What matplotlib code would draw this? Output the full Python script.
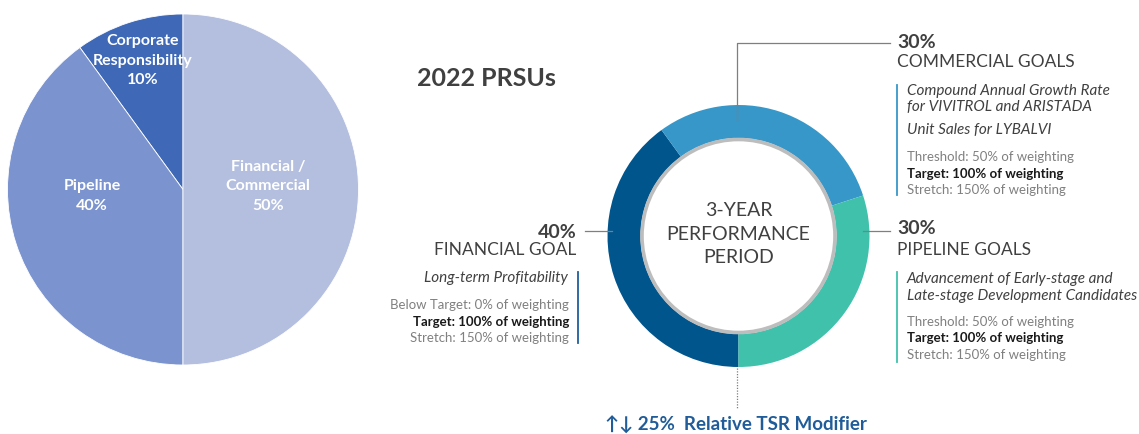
import matplotlib
matplotlib.use("Agg")
import matplotlib.pyplot as plt
from matplotlib.patches import Circle

plt.rcParams['font.family'] = ['Lato', 'DejaVu Sans']

# ---- data ----
pie_labels = ["Corporate\nResponsibility\n10%", "Pipeline\n40%", "Financial /\nCommercial\n50%"]
pie_values = [10, 40, 50]
pie_colors = ["#3F69B7", "#7B93CF", "#B4BFE0"]

donut_names = ["FINANCIAL GOAL", "COMMERCIAL GOALS", "PIPELINE GOALS"]
donut_values = [40, 30, 30]
donut_colors = ["#00558C", "#3797C9", "#40C1AC"]

title = "2022 PRSUs"
center_text = "3-YEAR\nPERFORMANCE\nPERIOD"

commercial_metrics = ["Compound Annual Growth Rate", "for VIVITROL and ARISTADA", "Unit Sales for LYBALVI"]
commercial_levels = ["Threshold: 50% of weighting", "Target: 100% of weighting", "Stretch: 150% of weighting"]
pipeline_metrics = ["Advancement of Early-stage and", "Late-stage Development Candidates"]
pipeline_levels = ["Threshold: 50% of weighting", "Target: 100% of weighting", "Stretch: 150% of weighting"]
financial_metrics = ["Long-term Profitability"]
financial_levels = ["Below Target: 0% of weighting", "Target: 100% of weighting", "Stretch: 150% of weighting"]
modifier_text = "\u2191\u2193 25%  Relative TSR Modifier"

W, H = 1139, 434
fig = plt.figure(figsize=(W / 100, H / 100), dpi=100)
ax = fig.add_axes([0, 0, 1, 1])

def Y(y):
    return H - y

# ---- left pie ----
wedges, texts = ax.pie(pie_values, colors=pie_colors, startangle=90, counterclock=True,
                       center=(183, Y(189.5)), radius=175.5,
                       wedgeprops=dict(edgecolor="white", linewidth=0.6))
label_pos = [(143, 61), (92, 196), (268, 186)]
for lab, (x, y) in zip(pie_labels, label_pos):
    ax.text(x, Y(y), lab, ha="center", va="center", color="white", fontsize=11.5,
            fontweight="bold", linespacing=1.5)

# ---- donut ----
cx, cy = 738.5, 236
ax.pie(donut_values, colors=donut_colors, startangle=270, counterclock=False,
       center=(cx, Y(cy)), radius=131, wedgeprops=dict(width=33, linewidth=0))
ax.add_patch(Circle((cx, Y(cy)), 96.5, facecolor="white", edgecolor="#BDBDBD", linewidth=2.6, zorder=3))
ax.text(cx, Y(cy - 2), center_text, ha="center", va="center", color="#404040", fontsize=14,
        fontweight="normal", linespacing=1.45, zorder=4)

# ---- title ----
ax.text(417, Y(79), title, ha="left", va="center", color="#404040", fontsize=18, fontweight="bold")

grey = "#7F7F7F"
# leader lines
ax.plot([737, 737, 890], [Y(120), Y(43), Y(43)], color=grey, lw=0.9, zorder=5)
ax.plot([585, 612], [Y(231), Y(231)], color=grey, lw=0.9, zorder=5)
ax.plot([863, 890], [Y(231), Y(231)], color=grey, lw=0.9, zorder=5)
ax.plot([737, 737], [Y(368), Y(408)], color=grey, lw=0.9, ls=(0, (1, 1.2)), zorder=5)

dark = "#404040"
lvl_col = "#808080"
NAME_FS = 12.5
MET_FS = 11
LVL_FS = 9.5

def block(x, pct, pct_y, name, name_y, metrics, metric_ys, levels, level_ys, line_x, line_y0, line_y1, line_col):
    ax.text(x, Y(pct_y), pct, ha="left", va="center", color=dark, fontsize=14, fontweight="bold")
    ax.text(x, Y(name_y), name, ha="left", va="center", color=dark, fontsize=NAME_FS)
    ax.plot([line_x, line_x], [Y(line_y0), Y(line_y1)], color=line_col, lw=1.3)
    tx = x + 10
    for m, my in zip(metrics, metric_ys):
        ax.text(tx, Y(my), m, ha="left", va="center", color=dark, fontsize=MET_FS, style="italic")
    for i, (l, ly) in enumerate(zip(levels, level_ys)):
        if i == 1:
            ax.text(tx, Y(ly), l, ha="left", va="center", color="#1A1A1A", fontsize=LVL_FS, fontweight="bold")
        else:
            ax.text(tx, Y(ly), l, ha="left", va="center", color=lvl_col, fontsize=LVL_FS)

block(897, "30%", 42, donut_names[1], 62, commercial_metrics, [91, 107, 130],
      commercial_levels, [157, 174, 190], 897, 85, 195, donut_colors[1])
block(897, "30%", 229, donut_names[2], 250, pipeline_metrics, [279, 296],
      pipeline_levels, [322, 338, 355], 897, 272, 362, donut_colors[2])
ax.text(577, Y(232), "40%", ha="right", va="center", color=dark, fontsize=14, fontweight="bold")
ax.text(576, Y(250), donut_names[0], ha="right", va="center", color=dark, fontsize=NAME_FS)
ax.plot([578, 578], [Y(272), Y(343)], color="#1F5F9B", lw=1.3)
for m, my in zip(financial_metrics, [278]):
    ax.text(568, Y(my), m, ha="right", va="center", color=dark, fontsize=MET_FS, style="italic")
for i, (l, ly) in enumerate(zip(financial_levels, [305, 322, 338])):
    if i == 1:
        ax.text(569, Y(ly), l, ha="right", va="center", color="#1A1A1A", fontsize=LVL_FS, fontweight="bold")
    else:
        ax.text(569, Y(ly), l, ha="right", va="center", color=lvl_col, fontsize=LVL_FS)

ax.text(736, Y(425), modifier_text, ha="center", va="center", color="#1F5C99", fontsize=13.5,
        fontweight="bold")

ax.set_xlim(0, W)
ax.set_ylim(0, H)
ax.set_aspect("equal")
ax.axis("off")
fig.savefig("out.png", dpi=100, facecolor="white")
